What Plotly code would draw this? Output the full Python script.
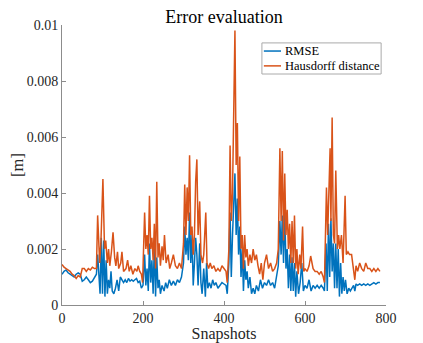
import plotly.graph_objects as go

# values, in units of 1e-3 m
hd_snap = [0, 5, 10, 15, 20, 25, 30, 35, 40, 45, 50, 55, 60, 65, 70, 75, 80, 85,
           88, 93, 96, 101, 105, 108, 112, 115, 118, 122, 126, 130, 133, 137, 140, 145,
           148, 152, 158, 162, 166, 170, 175, 180, 185, 188, 192, 196, 199,
           204, 207, 210, 213, 216, 219, 222, 225, 228, 231, 234, 237, 240, 243, 247,
           250, 253, 257, 262, 266, 270, 275, 280, 285, 290, 295,
           300, 303, 306, 309, 312, 315, 318, 321, 324, 327, 330, 333, 336, 340, 343,
           347, 350, 355, 358, 362, 366, 370, 375, 380, 385, 390, 395, 400, 405, 408,
           412, 415, 418, 421, 424, 427, 430, 433, 436, 439, 442, 445, 448, 451, 454,
           457, 460, 464, 468, 472, 476, 480, 484, 488, 492, 496, 500, 505, 510, 515,
           520, 525, 530, 534, 538, 541, 544, 547, 550, 553, 556, 559, 562, 565, 568,
           571, 574, 577, 580, 583, 587, 590, 594, 597, 600, 605, 610, 614, 620, 625,
           630, 635, 640, 645, 648, 653, 656, 662, 664, 667, 670, 673, 676, 680, 683,
           686, 690, 694, 699, 702, 706, 710, 715, 720, 723, 726, 730, 735, 740, 745,
           750, 755, 760, 765, 770, 775, 780, 785]
hd_val = [1.45, 1.35, 1.3, 1.25, 1.2, 1.1, 1.05, 0.95, 1.05, 1.0, 1.3, 1.3, 1.2, 1.3, 1.25, 1.35, 1.3, 1.3,
          3.2, 1.5, 2.2, 4.5, 2.0, 2.3, 1.5, 2.0, 1.4, 1.9, 2.6, 1.7, 1.4, 1.9, 1.3, 1.5,
          1.9, 1.2, 1.3, 1.6, 1.2, 1.4, 1.1, 1.3, 1.2, 1.4, 1.2, 1.1, 0.8,
          3.3, 2.0, 2.5, 1.8, 3.9, 2.0, 2.4, 1.6, 2.9, 1.3, 4.4, 1.7, 2.2, 1.4, 2.1,
          1.6, 2.5, 1.5, 1.8, 1.3, 1.5, 1.8, 1.4, 1.3, 1.5, 1.3,
          2.2, 4.3, 2.5, 4.2, 3.0, 5.35, 2.5, 2.8, 1.8, 2.5, 4.4, 5.2, 2.5, 3.7, 1.8,
          1.5, 1.8, 3.3, 1.5, 1.3, 1.5, 1.3, 1.4, 1.2, 1.3, 1.2, 1.4, 1.3, 1.2, 0.8,
          2.0, 5.7, 3.0, 4.0, 7.5, 9.8, 5.0, 6.5, 3.0, 5.3, 2.0, 2.5, 1.3, 2.5, 1.7,
          2.0, 1.4, 1.8, 1.5, 2.0, 1.6, 1.8, 1.4, 1.1, 1.5, 0.9, 1.5, 1.8, 1.3, 1.5,
          1.2, 1.3, 1.5, 2.0, 5.6, 3.0, 5.5, 2.3, 4.7, 2.5, 3.4, 2.0, 2.9, 1.5, 3.0,
          1.5, 3.2, 1.3, 2.0, 1.1, 1.8, 1.3, 2.8, 1.2, 1.3, 1.2, 1.4, 1.75, 1.3, 1.2,
          1.2, 1.1, 1.2, 1.0, 0.8, 4.2, 2.5, 5.6, 3.0, 6.7, 2.5, 2.2, 4.8, 2.0, 2.5,
          2.0, 2.5, 1.5, 3.9, 1.8, 1.9, 1.8, 1.8, 1.3, 0.9, 1.4, 1.2, 1.5, 1.3, 1.2,
          1.5, 1.3, 1.3, 1.2, 1.3, 1.2, 1.3, 1.2]

rmse_snap = [0, 5, 10, 15, 20, 25, 30, 35, 40, 45, 50, 55, 60, 65, 70, 75, 80, 85,
             88, 91, 94, 97, 100, 103, 106, 109, 112, 115, 118, 121, 124, 128, 132, 136,
             140, 144, 148, 152, 156, 160, 164, 168, 172, 176, 180, 184, 188, 192, 196,
             200, 204, 207, 210, 213, 216, 219, 222, 225, 228, 231, 234, 237, 240, 243,
             247, 252, 256, 260, 265, 270, 275, 280, 285, 290, 295, 300, 303, 306, 309,
             312, 315, 318, 321, 324, 327, 330, 333, 336, 340, 343, 346, 350, 354, 357,
             360, 364, 368, 372, 376, 380, 385, 390, 395, 400, 405, 408, 412, 415, 418,
             421, 424, 427, 430, 433, 436, 439, 442, 445, 448, 451, 454, 457, 460, 464,
             468, 472, 476, 480, 485, 490, 495, 500, 505, 510, 515, 520, 525, 530, 534,
             538, 541, 544, 547, 550, 553, 556, 559, 562, 565, 568, 571, 574, 577, 580,
             584, 588, 592, 596, 600, 605, 610, 615, 620, 625, 630, 635, 640, 645, 648,
             652, 655, 658, 661, 664, 667, 670, 673, 676, 679, 682, 685, 688, 691, 694,
             697, 700, 704, 708, 712, 716, 720, 723, 726, 730, 735, 740, 745, 750, 755,
             760, 765, 770, 775, 780, 785]
rmse_val = [1.1, 1.2, 1.25, 1.15, 1.1, 1.05, 1.0, 1.1, 1.15, 1.1, 0.85, 0.9, 1.0, 0.9, 0.8, 0.85, 1.0, 1.1,
            1.8, 1.0, 0.4, 2.4, 0.4, 2.3, 0.3, 1.6, 0.4, 0.9, 0.6, 1.2, 0.5, 0.4, 0.6, 0.9,
            0.5, 1.0, 0.9, 0.8, 0.9, 0.8, 0.95, 0.85, 0.9, 0.85, 0.9, 0.95, 0.8, 0.85, 0.6,
            0.7, 1.8, 0.7, 1.3, 0.5, 2.2, 0.8, 1.6, 0.4, 2.2, 0.3, 1.7, 0.6, 0.9, 0.4,
            0.7, 0.5, 0.8, 0.6, 0.9, 0.7, 0.85, 0.7, 0.9, 0.8, 1.0, 1.5, 2.8, 1.8, 2.4,
            1.6, 3.3, 1.5, 2.5, 0.7, 1.5, 2.4, 1.8, 0.7, 2.2, 0.8, 0.4, 1.3, 0.3, 1.5,
            0.6, 0.8, 0.6, 0.9, 0.7, 0.8, 0.6, 0.7, 0.8, 0.75, 0.7, 0.4, 1.5, 3.3, 1.0,
            2.5, 3.5, 4.7, 2.5, 3.8, 1.8, 2.8, 1.0, 2.0, 0.5, 1.6, 0.9, 1.2, 0.6, 1.0,
            0.4, 0.6, 0.4, 0.7, 0.5, 0.9, 0.6, 0.8, 0.7, 0.9, 0.7, 0.8, 0.6, 1.0, 1.4,
            3.0, 1.8, 3.2, 1.5, 3.4, 1.3, 2.0, 0.6, 1.8, 0.5, 1.7, 0.5, 1.5, 0.3, 1.2,
            0.4, 0.8, 1.5, 0.5, 0.7, 0.6, 0.9, 0.5, 0.7, 0.6, 0.7, 0.6, 0.7, 0.6, 0.5,
            2.2, 0.5, 2.9, 1.0, 3.1, 1.2, 2.2, 0.6, 2.2, 0.6, 2.0, 0.3, 1.5, 0.4, 1.0,
            0.5, 0.9, 0.4, 0.6, 0.5, 0.6, 0.7, 0.5, 0.75, 0.7, 0.75, 0.7, 0.75, 0.7, 0.75,
            0.7, 0.75, 0.8, 0.75, 0.8, 0.8]

x_ticks = [0, 200, 400, 600, 800]
y_ticks = [0, 0.002, 0.004, 0.006, 0.008, 0.01]
y_labels = ["0", "0.002", "0.004", "0.006", "0.008", "0.01"]

series_names = ["RMSE", "Hausdorff distance"]
series_colors = ["#0072BD", "#D95319"]

serif = "Liberation Serif, DejaVu Serif, serif"

fig = go.Figure()
fig.add_trace(go.Scatter(x=rmse_snap, y=[v * 1e-3 for v in rmse_val], mode="lines",
                         name=series_names[0], line=dict(color=series_colors[0], width=1.5)))
fig.add_trace(go.Scatter(x=hd_snap, y=[v * 1e-3 for v in hd_val], mode="lines",
                         name=series_names[1], line=dict(color=series_colors[1], width=1.5)))

axis_style = dict(showgrid=False, zeroline=False, showline=True, linecolor="#8c8c8c",
                  linewidth=1, ticks="inside", ticklen=4, tickcolor="#8c8c8c",
                  automargin=False,
                  tickfont=dict(family=serif, size=14, color="#262626"))

# MATLAB-style legend box drawn by hand (short line samples)
fig.add_shape(type="rect", xref="paper", yref="paper", x0=0.617, x1=0.985, y0=0.825, y1=0.936,
              line=dict(color="#aaaaaa", width=1), fillcolor="white", layer="above")
for i, (name, color) in enumerate(zip(series_names, series_colors)):
    yy = 0.907 - i * 0.053
    fig.add_shape(type="line", xref="paper", yref="paper", x0=0.623, x1=0.676, y0=yy, y1=yy,
                  line=dict(color=color, width=1.5), layer="above")
    fig.add_annotation(xref="paper", yref="paper", x=0.682, y=yy, xanchor="left", yanchor="middle",
                       text=name, showarrow=False,
                       font=dict(family=serif, size=12.5, color="black"))

# page body has an 8px margin, so the figure is 8px smaller on each side
fig.update_layout(
    width=415, height=335,
    margin=dict(l=54, r=37, t=17, b=38),
    paper_bgcolor="white", plot_bgcolor="white",
    showlegend=False,
    title=dict(text="Error evaluation", x=0.5, xref="paper", yref="container", y=0.993,
               yanchor="top", pad=dict(t=0), font=dict(family=serif, size=18, color="black")),
    xaxis=dict(range=[0, 800], tickvals=x_ticks, **axis_style,
               title=dict(text="Snapshots", standoff=4,
                          font=dict(family=serif, size=16, color="#262626"))),
    yaxis=dict(range=[0, 0.01], tickvals=y_ticks, ticktext=y_labels, **axis_style,
               title=dict(text="[m]", standoff=2,
                          font=dict(family=serif, size=16.5, color="#262626"))),
)

fig.write_html("out.html")
